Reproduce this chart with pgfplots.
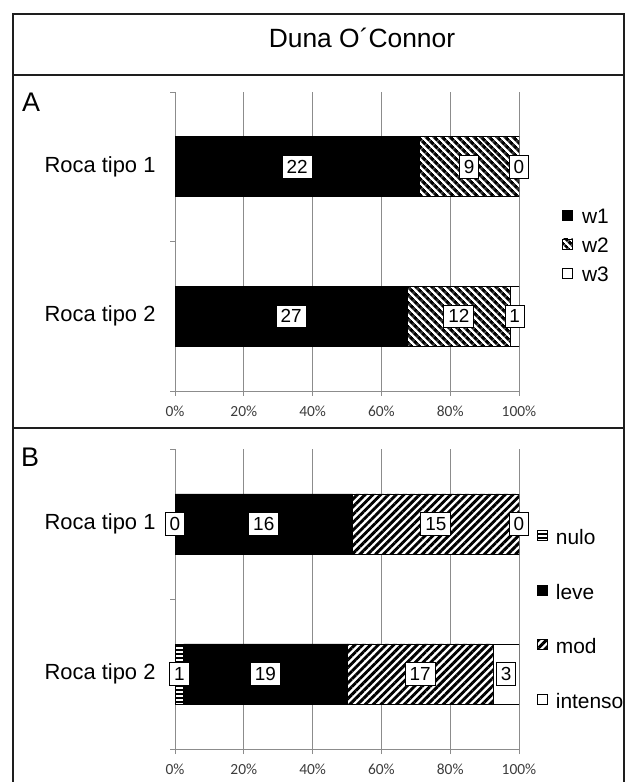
\documentclass[border=0pt]{standalone}
\usepackage{pgfplots}
\pgfplotsset{compat=1.18}
\usetikzlibrary{patterns.meta}
\usepackage{fontspec}
\setmainfont{Liberation Sans}
\newfontfamily\tickfont{Carlito}
\definecolor{axgray}{RGB}{140,140,140}
\definecolor{ticktext}{RGB}{60,60,60}
\definecolor{framec}{RGB}{30,30,30}

\pgfplotsset{
  panel/.style={
    scale only axis, width=344bp, xmin=0, xmax=100, ymin=0.5, ymax=2.5,
    axis x line*=bottom, axis y line*=left,
    axis line style={axgray, line width=0.9bp},
    xtick={0,20,40,60,80,100},
    xticklabels={0\%,20\%,40\%,60\%,80\%,100\%},
    xticklabel style={font=\tickfont\fontsize{15.5}{15.5}\selectfont, text=ticktext, yshift=-6bp},
    ytick={0.5,1.5,2.5}, yticklabels={},
    extra y ticks={1,2}, extra y tick labels={Roca tipo 2,Roca tipo 1},
    extra y tick style={major tick length=0pt, tick style={draw=none},
      yticklabel style={font=\fontsize{22}{22}\selectfont, text=black, xshift=-16bp, yshift=0bp}},
    tick align=outside, major tick length=5bp,
    tick style={axgray, line width=0.9bp},
    xmajorgrids, grid style={axgray, line width=0.9bp},
    xbar stacked, bar width=60bp,
    legend image code/.code={\draw[#1] (0bp,-1.5bp) rectangle (10bp,8.5bp);},
    legend cell align=left,
  },
  labs/.style={
    scale only axis, width=344bp, xmin=0, xmax=100, ymin=0.5, ymax=2.5,
    hide axis, clip=false,
    nodes near coords, point meta=explicit symbolic,
    every node near coord/.append style={anchor=center, draw=black, fill=white,
      line width=0.8bp, inner xsep=4.5bp, inner ysep=4.5bp, text height=13.5bp,
      text depth=0bp, font=\fontsize{19}{19}\selectfont},
  },
}

\begin{document}
\begin{tikzpicture}
\useasboundingbox (0bp,0bp) rectangle (630bp,782bp);

% frame
\draw[framec, line width=1.5bp] (13bp,-2bp) -- (13bp,768bp) -- (624bp,768bp) -- (624bp,-2bp);
\draw[framec, line width=1.5bp] (13bp,707bp) -- (624bp,707bp);
\draw[framec, line width=1.5bp] (13bp,354bp) -- (624bp,354bp);
\node[font=\fontsize{26.5}{26.5}\selectfont] at (362bp,744bp) {Duna O´Connor};
\node[font=\fontsize{27}{27}\selectfont] at (31bp,680bp) {A};
\node[font=\fontsize{27}{27}\selectfont] at (30bp,325bp) {B};

% Panel A
\begin{axis}[panel, at={(175bp,391bp)}, anchor=south west, height=299bp,
  legend style={draw=none, fill=none, at={(1.125,0.48)}, anchor=west, inner sep=0pt,
    row sep=9bp, font=\fontsize{21}{21}\selectfont,
    nodes={inner sep=0pt, text height=15.5bp, text depth=4.5bp},
    /tikz/every odd column/.append style={column sep=9bp}},
]
\addplot[fill=white, draw=black, line width=0.8bp, fill=black] coordinates {(70.968,2) (67.5,1)};
\addplot[fill=white, draw=black, line width=0.8bp,
  postaction={pattern={Lines[angle=-45,distance=6bp,line width=3.7bp]}}]
  coordinates {(29.032,2) (30,1)};
\addplot[fill=white, draw=black, line width=0.8bp] coordinates {(0,2) (2.5,1)};
\legend{w1,w2,w3}
\end{axis}
\begin{axis}[labs, at={(175bp,391bp)}, anchor=south west, height=299bp]
\addplot[only marks, mark=none] coordinates {
  (35.484,2) [22] (85.484,2) [9] (100,2) [0]
  (33.75,1) [27] (82.5,1) [12] (98.75,1) [1]};
\end{axis}

% Panel B
\begin{axis}[panel, at={(175bp,33bp)}, anchor=south west, height=300bp,
  legend style={draw=none, fill=none, at={(1.052,0.427)}, anchor=west, inner sep=0pt,
    row sep=34.5bp, font=\fontsize{21}{21}\selectfont,
    nodes={inner sep=0pt, text height=15.5bp, text depth=4.5bp},
    /tikz/every odd column/.append style={column sep=8bp}},
]
\addplot[fill=white, draw=black, line width=0.8bp,
  postaction={pattern={Lines[angle=0,distance=4bp,line width=1.8bp]}}]
  coordinates {(0,2) (2.5,1)};
\addplot[fill=black, draw=black, line width=0.8bp] coordinates {(51.613,2) (47.5,1)};
\addplot[fill=white, draw=black, line width=0.8bp,
  postaction={pattern={Lines[angle=45,distance=5.5bp,line width=2.9bp]}}]
  coordinates {(48.387,2) (42.5,1)};
\addplot[fill=white, draw=black, line width=0.8bp] coordinates {(0,2) (7.5,1)};
\legend{nulo,leve,mod,intenso}
\end{axis}
\begin{axis}[labs, at={(175bp,33bp)}, anchor=south west, height=300bp]
\addplot[only marks, mark=none] coordinates {
  (0,2) [0] (25.806,2) [16] (75.806,2) [15] (100,2) [0]
  (1.25,1) [1] (26.25,1) [19] (71.25,1) [17] (96.25,1) [3]};
\end{axis}
\end{tikzpicture}
\end{document}
